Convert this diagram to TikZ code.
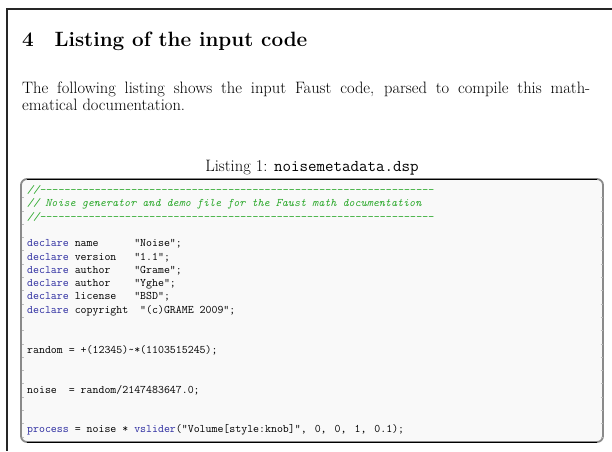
\documentclass[tikz,border=0pt]{standalone}
\usepackage{fontspec}
\definecolor{kwblue}{HTML}{2B2BA0}
\definecolor{cmtgreen}{HTML}{2AA82A}
\definecolor{bgcol}{HTML}{F9F9F9}
\definecolor{rulegray}{HTML}{8A8A8A}
\definecolor{tickgray}{HTML}{BDBDBD}
\newcommand\codefont{\fontsize{11.55}{13.3}\selectfont\ttfamily}
\newcommand\bodyfont{\fontsize{16.5}{17}\selectfont}
\newcommand\kw[1]{\textcolor{kwblue}{#1}}
\newcommand\cmt[1]{\textcolor{cmtgreen}{\itshape #1}}
\newcommand\dashes[1]{\foreach\i in {1,...,#1}{\mbox{-}}}
\newcommand\cl[2]{\node[codeline] (l#1) at (27,{193.5+13.3*(#1-1)}) {#2};}
\tikzset{
  codeline/.style={anchor=base west, inner sep=0pt, font=\codefont},
  textnode/.style={inner sep=0pt},
  ticks/.style={tickgray, line width=0.5pt},
}
\begin{document}
\begin{tikzpicture}[x=1pt,y=-1pt]
\useasboundingbox (0,0) rectangle (612,451);
\fill[white] (0,0) rectangle (612,451);
% page frame
\draw[line width=1.2pt, black!85] (612,9) -- (7,9) -- (7,451);
% heading
\node[textnode, anchor=base west, font={\fontsize{20.7}{24}\selectfont\bfseries}] (head) at (22,46)
  {4\hspace{20.7pt}Listing of the input code};
% body text
\node[textnode, anchor=base west, text width=568pt, align=justify, font=\bodyfont] (body) at (22,93)
  {The following listing shows the input Faust code, parsed to compile this math-\linebreak ematical documentation.};
% caption
\node[textnode, anchor=base, font=\bodyfont] (cap) at (312,171)
  {Listing 1: \texttt{noisemetadata.dsp}};
% listing frame
\fill[bgcol, rounded corners=6pt] (21,179) rectangle (603,442);
\draw[rulegray, line width=1.8pt, rounded corners=6pt] (21,179) rectangle (603,442);
\draw[black, line width=1pt] (27,179) -- (597,179);
\draw[black, line width=1pt] (27,442) -- (597,442);
\foreach \k in {0,...,18}{
  \draw[ticks] (21.5,{197.5+13.3*\k}) -- (23.5,{197.5+13.3*\k});
  \draw[ticks] (600.5,{197.5+13.3*\k}) -- (602.5,{197.5+13.3*\k});
}
% code
\cl{1}{\cmt{/\mbox{}/\dashes{65}}}
\cl{2}{\cmt{// Noise generator and demo file for the Faust math documentation}}
\cl{3}{\cmt{/\mbox{}/\dashes{65}}}
\cl{5}{\kw{declare} name~~~~~~"Noise";}
\cl{6}{\kw{declare} version~~~"1.1";}
\cl{7}{\kw{declare} author~~~~"Grame";}
\cl{8}{\kw{declare} author~~~~"Yghe";}
\cl{9}{\kw{declare} license~~~"BSD";}
\cl{10}{\kw{declare} copyright~~"(c)GRAME 2009";}
\cl{13}{random = +(12345)\textasciitilde*(1103515245);}
\cl{16}{noise~~= random/2147483647.0;}
\cl{19}{\kw{process} = noise * \kw{vslider}("Volume[style:knob]",\hspace{8pt}0,\hspace{8pt}0,\hspace{8pt}1,\hspace{8pt}0.1);}
\end{tikzpicture}
\end{document}
